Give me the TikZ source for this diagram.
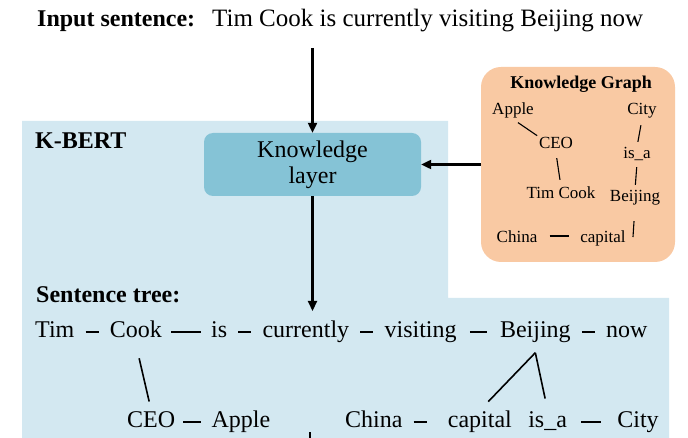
\documentclass[tikz,border=0pt]{standalone}
\usepackage{fontspec}
\setmainfont{Liberation Serif}
\usetikzlibrary{arrows.meta,positioning}
\definecolor{kbertbg}{HTML}{D3E8F1}
\definecolor{layerfill}{HTML}{85C3D6}
\definecolor{kgfill}{HTML}{F9C9A3}
\begin{document}
\begin{tikzpicture}[x=1pt,y=-1pt,
  word/.style={inner sep=0pt, text height=17pt, text depth=6pt, font=\fontsize{24}{28}\selectfont},
  kgword/.style={inner sep=0pt, text height=12pt, text depth=4pt, font=\fontsize{17}{20}\selectfont},
  dl/.style 2 args={line width=1.7pt, shorten <=#1, shorten >=#2},
  treeline/.style={line width=1.6pt},
  kgline/.style={line width=1.1pt},
  flow/.style={line width=2.2pt, -{Triangle[length=10pt,width=9pt]}}]
\useasboundingbox (0,0) rectangle (688,438);
% K-BERT background
\fill[kbertbg] (22,121) -- (448,121) -- (448,298) -- (669,298) -- (669,450) -- (22,450) -- cycle;
% knowledge graph box
\node[fill=kgfill, rounded corners=20pt, minimum width=194pt, minimum height=195pt, inner sep=0pt] (kg) at (578,164.5) {};
% knowledge layer
\node[fill=layerfill, rounded corners=9pt, minimum width=217pt, minimum height=63pt, inner sep=0pt, align=center, font=\fontsize{24}{26}\selectfont] (layer) at (312.5,164.5) {Knowledge\\layer};
% headings
\node[anchor=base west, inner sep=0pt, font=\bfseries\fontsize{24}{28}\selectfont] (inlabel) at (37,27) {Input sentence:};
\node[anchor=base west, inner sep=0pt, font=\fontsize{25}{28}\selectfont] (insent) at (212,27) {Tim Cook is currently visiting Beijing now};
\node[anchor=base west, inner sep=0pt, font=\bfseries\fontsize{24}{28}\selectfont] (kbert) at (35,149) {K-BERT};
\node[anchor=base west, inner sep=0pt, font=\bfseries\fontsize{24}{28}\selectfont] (sttitle) at (36,302) {Sentence tree:};
\node[inner sep=0pt, font=\bfseries\fontsize{18}{20}\selectfont] (kgtitle) at (581,84) {Knowledge Graph};
% arrows
\coordinate (a1) at (312.5,48);
\coordinate (a3) at (312.5,311);
\coordinate (b1) at (310,432);
\coordinate (b2) at (310,450);
\draw[flow] (a1) -- (layer);
\draw[flow] (kg) -- (layer);
\draw[flow] (layer) -- (a3);
\draw[line width=2.2pt] (b1) -- (b2);
% KG content
\node[kgword] (kapple) at (513,111) {Apple};
\node[kgword] (kcity) at (642,111) {City};
\node[kgword] (kceo) at (556,145) {CEO};
\node[kgword] (kisa) at (637,155) {is\_a};
\node[kgword] (ktim) at (561,195) {Tim Cook};
\node[kgword] (kbeijing) at (635,198) {Beijing};
\node[kgword] (kchina) at (517,239) {China};
\node[kgword] (kcapital) at (603,239) {capital};
\draw[kgline, shorten <=6pt, shorten >=2pt] (kapple.south) -- (kceo.north west);
\draw[kgline, shorten <=6pt, shorten >=5pt] (kcity.south) -- (kisa.north);
\draw[kgline, shorten <=5pt, shorten >=7pt] (kceo.south) -- (ktim.north);
\draw[kgline, shorten <=4pt, shorten >=5pt] (kisa.south) -- (kbeijing.north);
\draw[kgline, shorten <=15pt, shorten >=2pt] (kbeijing.south) -- ([xshift=7pt]kcapital.east);
\draw[kgline, shorten <=12pt, shorten >=11pt] ([yshift=3pt]kchina.east) -- ([yshift=3pt]kcapital.west);
% sentence tree row 1
\node[word, anchor=west] (tim) at (35,332) {Tim};
\node[word, right=35pt of tim] (cook) {Cook};
\node[word, right=49pt of cook] (is) {is};
\node[word, right=35pt of is] (currently) {currently};
\node[word, right=35pt of currently] (visiting) {visiting};
\node[word, right=43pt of visiting] (beijing) {Beijing};
\node[word, right=35pt of beijing] (now) {now};
\draw[dl={11pt}{11pt}] (tim) -- (cook);
\draw[dl={9.5pt}{9.5pt}] (cook) -- (is);
\draw[dl={11pt}{11pt}] (is) -- (currently);
\draw[dl={11pt}{11pt}] (currently) -- (visiting);
\draw[dl={13pt}{13pt}] (visiting) -- (beijing);
\draw[dl={11pt}{11pt}] (beijing) -- (now);
% row 2
\node[word, anchor=west] (ceo) at (127,422) {CEO};
\node[word, right=36pt of ceo] (apple) {Apple};
\node[word, anchor=west] (china) at (345,422) {China};
\node[word, right=45pt of china] (capital) {capital};
\node[word, right=16pt of capital] (isa) {is\_a};
\node[word, right=50pt of isa] (city) {City};
\draw[dl={8pt}{10pt}] (ceo) -- (apple);
\draw[dl={11pt}{21pt}] (china) -- (capital);
\draw[dl={14pt}{16pt}] (isa) -- (city);
% tree links
\coordinate (apex) at ([yshift=-9pt]beijing.south);
\draw[treeline, shorten <=15pt, shorten >=9pt] (cook.south) -- (ceo.north);
\draw[treeline, shorten >=12pt] (apex) -- (capital.north);
\draw[treeline, shorten >=12pt] (apex) -- (isa.north);
\end{tikzpicture}
\end{document}
